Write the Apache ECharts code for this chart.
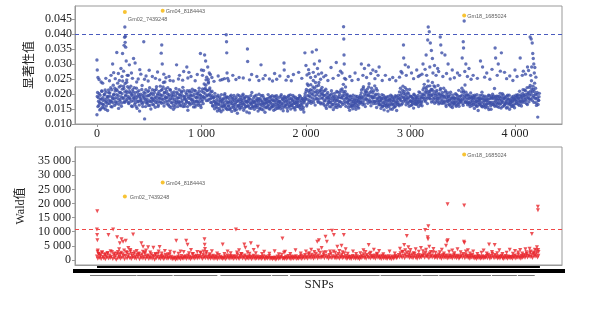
<!DOCTYPE html>
<html>
<head>
<meta charset="utf-8">
<script src="https://cdn.jsdelivr.net/npm/echarts@6/dist/echarts.min.js"></script>
<style>html,body{margin:0;padding:0;background:#fff}#chart{width:612px;height:309px}</style>
</head>
<body>
<div id="chart"></div>
<script>
const snpTicks = [0, 1000, 2000, 3000, 4000];
const sigTicks = [0.010, 0.015, 0.020, 0.025, 0.030, 0.035, 0.040, 0.045];
const waldTicks = [0, 5000, 10000, 15000, 20000, 25000, 30000, 35000];

// significance values, one every SIG_STEP SNPs, in units of 0.0001
const SIG_STEP = 6;
const sigBand = [
  131,205,188,162,171,196,150,183,209,166, 178,154,199,213,172,160,186,145,191,204,
  168,193,221,175,157,184,229,199,162,210, 188,215,173,236,194,166,205,182,227,159,
  201,243,185,218,172,235,197,210,176,224, 192,171,208,183,226,160,199,214,177,188,
  165,204,181,219,152,193,176,211,143,187, 199,172,228,158,190,206,117,181,214,169,
  183,207,162,195,221,174,150,203,186,166, 197,178,212,156,189,224,171,201,163,208,
  185,226,194,169,215,181,238,160,203,191, 176,209,187,221,164,198,180,213,155,195,
  170,192,149,207,183,165,218,177,201,158, 188,214,172,196,161,205,179,222,167,190,
  159,183,203,175,211,146,192,170,206,185, 194,168,216,181,157,199,174,210,163,187,
  176,201,162,219,184,197,155,209,180,192, 205,233,186,218,247,193,212,178,240,199,
  220,183,206,171,194,159,188,174,202,165, 158,181,143,196,167,152,189,174,141,178,
  169,147,185,162,201,155,178,190,148,172, 160,183,151,175,196,142,168,187,157,179,
  145,171,189,158,136,177,163,194,150,168, 182,155,172,199,146,166,187,159,176,140,
  174,191,160,137,183,168,152,205,171,158, 188,149,173,162,196,155,179,143,184,167,
  153,178,194,161,172,147,188,165,139,181, 170,156,185,198,163,176,150,191,168,159,
  181,164,146,177,193,158,172,186,152,169, 163,189,175,151,198,167,182,144,178,192,
  157,174,188,166,143,180,195,161,173,150, 185,162,177,154,190,169,147,183,165,176,
  171,158,186,195,163,149,179,167,184,156, 140,178,201,183,215,166,194,228,172,205,
  190,231,176,212,198,245,181,219,163,207, 226,184,203,172,238,193,211,167,199,222,
  186,209,164,195,177,216,152,189,205,171, 182,158,197,173,211,165,190,148,184,202,
  169,193,178,155,206,187,161,198,174,213, 188,217,165,232,194,176,208,159,185,199,
  172,155,181,146,193,167,160,188,151,175, 163,184,170,149,178,192,157,174,166,186,
  195,171,213,186,164,224,179,201,158,207, 183,216,169,198,234,175,192,161,219,187,
  204,168,189,227,176,199,155,212,183,171, 190,165,178,152,186,171,159,195,147,177,
  168,181,156,174,143,192,163,179,150,185, 176,149,188,165,180,157,194,170,145,183,
  172,196,161,185,219,177,203,168,226,190, 208,181,199,164,215,187,173,201,159,193,
  178,162,191,170,184,153,197,175,166,188, 181,169,195,158,176,204,163,187,172,199,
  214,186,232,197,175,221,205,168,243,190, 201,227,183,215,194,238,176,209,188,223,
  196,173,212,185,228,167,201,190,218,178, 187,205,169,219,193,176,211,158,198,182,
  174,192,163,181,206,170,188,155,197,179, 168,185,201,159,177,194,166,212,180,171,
  193,176,219,184,162,205,188,230,173,197, 181,164,196,172,187,158,203,169,185,177,
  166,183,152,191,175,160,198,171,145,186, 178,195,163,184,206,157,172,189,166,180,
  159,176,190,167,183,148,195,172,161,187, 173,199,165,186,218,177,162,193,180,168,
  185,156,179,202,168,191,174,158,197,183, 164,187,171,153,180,196,167,183,149,176,
  172,158,190,177,163,185,154,179,196,168, 181,198,166,187,209,175,193,160,184,202,
  177,194,213,182,199,168,221,187,205,174, 196,228,183,244,207,189,215,172,236,199,
  184,162,205,123,178,191
];
// second sampling of the same band, offset by half a step, in units of 0.0001
const sigBand2 = [
  192,158,176,201,147,183,169,210,155,188, 164,197,181,149,206,175,192,168,213,179,
  203,176,158,214,189,171,197,183,219,174, 167,198,211,184,152,223,176,205,191,170,
  216,188,226,174,207,193,181,239,204,186, 168,219,187,203,176,195,158,207,185,221,
  194,171,158,188,207,174,199,163,192,178, 181,215,167,196,173,186,202,158,193,176,
  171,194,211,178,162,199,187,175,214,181, 163,204,187,172,215,179,196,158,187,174,
  199,173,212,184,196,223,171,205,185,217, 188,167,201,176,193,159,214,186,172,204,
  183,161,199,175,156,193,172,206,186,169, 175,198,163,187,209,173,194,158,211,183,
  192,168,177,199,158,186,171,211,164,197, 181,207,176,193,168,212,157,189,176,201,
  191,169,208,174,196,163,188,175,217,168, 189,216,201,229,178,211,196,236,183,214,
  195,172,188,209,162,187,177,151,192,169, 172,153,190,165,177,146,183,161,198,157,
  182,159,173,196,164,187,151,170,189,160, 173,148,192,167,154,185,176,162,195,151,
  166,183,148,175,197,161,182,155,174,189, 162,178,194,167,185,153,176,192,158,172,
  161,179,186,153,172,195,164,180,157,176, 171,193,158,179,167,185,161,174,199,150,
  184,166,149,177,195,168,157,182,173,154, 182,171,160,176,151,189,172,181,156,194,
  158,177,190,166,149,182,194,163,178,155, 176,158,171,193,162,185,154,170,188,161,
  184,163,177,152,191,170,158,184,197,168, 162,181,195,168,176,154,189,171,158,184,
  185,163,177,155,191,172,160,184,149,176, 171,192,186,208,160,233,181,211,194,178,
  214,169,201,187,223,172,206,193,238,184, 197,212,176,229,183,206,171,215,187,201,
  169,196,178,211,159,184,199,165,188,176, 194,171,186,157,201,179,165,193,177,156,
  185,162,208,179,166,191,174,206,158,187, 171,194,208,183,202,169,223,187,196,174,
  189,166,179,193,158,182,174,161,196,168, 179,157,193,171,162,185,178,153,189,172,
  178,203,189,172,218,193,167,211,185,196, 206,178,194,223,181,204,172,209,193,176,
  187,211,175,196,168,218,186,177,199,164, 176,189,163,181,198,159,185,171,162,189,
  186,162,190,165,179,158,183,170,196,164, 193,167,178,156,187,173,161,192,177,166,
  188,165,207,181,196,164,189,212,176,201, 186,221,174,193,182,204,168,187,215,176,
  193,175,164,187,177,199,168,183,192,174, 165,187,175,207,183,169,192,177,161,188,
  197,221,179,206,188,213,184,226,197,208, 186,209,196,173,215,199,184,227,169,201,
  182,207,191,176,199,184,171,213,196,169, 197,178,193,172,187,206,164,189,176,204,
  191,166,179,198,158,185,173,164,188,171, 187,173,163,198,186,170,183,159,191,176,
  181,207,196,168,211,179,194,172,206,188, 172,197,169,184,165,192,176,188,161,194,
  189,171,196,164,183,176,159,187,178,165, 168,184,172,159,196,183,161,178,193,154,
  183,166,178,155,196,172,184,167,149,191, 186,165,193,171,159,190,184,171,158,193,
  171,192,166,185,153,178,201,172,186,161, 189,167,175,193,156,184,171,196,165,179,
  166,185,174,159,193,182,167,188,174,191, 194,173,186,162,178,197,169,189,176,214,
  196,172,187,211,178,193,165,201,186,222, 183,209,199,217,178,226,194,208,187,219,
  171,198,187,165,179,202
];
// points between the band and the peaks [snp, value in 0.0001]
const sigMid = [
  [20,248],[55,236],[85,252],[120,244],[135,262],[175,251],[205,268],[215,245],[240,258],[255,276],
  [285,247],[300,262],[340,252],[380,240],[420,266],[455,249],[490,243],[560,252],[600,247],[650,240],
  [690,258],[730,243],[780,250],[820,246],[870,253],[940,244],[1010,262],[1020,278],[1050,256],[1065,248],
  [1085,265],[1120,242],[1180,246],[1220,251],[1260,244],[1330,248],[1400,253],[1460,247],[1550,245],[1590,251],
  [1680,243],[1720,249],[1810,246],[1860,244],[1960,252],[2010,263],[2025,281],[2045,255],[2070,272],[2090,258],
  [2120,266],[2140,249],[2170,257],[2210,245],[2260,252],[2310,262],[2345,270],[2380,249],[2440,245],[2500,248],
  [2545,262],[2580,255],[2620,268],[2660,251],[2690,262],[2730,245],[2800,248],[2860,244],[2895,256],[2920,270],
  [2960,262],[3030,251],[3075,258],[3110,266],[3140,282],[3155,262],[3185,290],[3215,270],[3245,262],[3270,275],
  [3310,258],[3345,268],[3380,250],[3420,254],[3470,262],[3520,275],[3545,258],[3580,249],[3640,252],[3710,256],
  [3760,249],[3830,262],[3860,276],[3920,251],[3980,245],[4020,258],[4070,262],[4100,266],[4130,278],[4150,262],
  [4160,290],[4185,270],[4200,256]
];
// scattered high points [snp, value in 0.0001]
const sigPeaks = [
  [0,313],[3,280],[10,255],[40,240],[150,300],[160,271],[190,338],[230,285],[245,335],[260,362],
  [265,389],[267,423],[270,372],[272,392],[275,356],[280,310],[290,262],[310,297],[330,270],[350,318],
  [365,303],[395,250],[410,281],[448,374],[470,260],[500,279],[530,258],[580,273],[615,336],[620,363],
  [625,300],[640,266],[660,254],[700,245],[762,297],[790,262],[830,275],[860,290],[880,272],[900,258],
  [960,265],[990,335],[1000,280],[1030,330],[1040,310],[1060,290],[1075,270],[1100,255],[1160,260],[1200,248],
  [1237,397],[1240,374],[1242,337],[1245,270],[1250,252],[1300,262],[1360,255],[1440,350],[1442,308],[1480,265],
  [1530,258],[1570,297],[1610,262],[1650,250],[1700,268],[1750,260],[1790,303],[1792,280],[1830,258],[1880,265],
  [1930,272],[1990,337],[2000,295],[2030,268],[2060,340],[2080,300],[2100,347],[2110,285],[2130,310],[2150,270],
  [2190,262],[2240,288],[2290,305],[2330,276],[2360,424],[2362,383],[2364,330],[2366,300],[2370,252],[2420,258],
  [2470,270],[2530,300],[2560,285],[2600,296],[2640,280],[2670,275],[2700,290],[2760,262],[2830,255],[2910,275],
  [2933,363],[2935,320],[2950,297],[2980,290],[3010,270],[3060,280],[3090,262],[3120,300],[3150,330],[3165,380],
  [3170,423],[3180,407],[3190,370],[3200,345],[3210,318],[3230,295],[3260,285],[3285,390],[3290,363],[3300,337],
  [3330,330],[3360,300],[3400,280],[3450,270],[3495,320],[3505,374],[3508,353],[3514,443],[3530,300],[3560,285],
  [3600,262],[3670,310],[3690,290],[3730,270],[3780,282],[3810,353],[3815,320],[3840,300],[3870,337],[3900,272],
  [3950,260],[4000,280],[4050,320],[4080,276],[4120,290],[4145,390],[4155,383],[4165,370],[4170,335],[4175,318],
  [4180,300],[4190,288]
];

// Wald values, one every WALD_STEP SNPs, in units of 100
const WALD_STEP = 8;
const waldBand = [
  12,4,21,8,15,3,26,10,6,18,2,13,9,24,5,   16,7,11,28,3,19,9,14,1,22,6,17,10,4,25,
  8,20,13,2,15,27,5,11,18,7,30,3,14,9,21,  6,12,4,17,10,23,2,15,8,19,5,11,26,3,13,
  9,16,3,12,7,20,4,14,10,1,18,6,11,22,5,   10,3,15,7,12,2,9,17,5,13,4,8,19,6,11,
  2,6,4,9,1,7,3,11,5,8,2,14,6,4,10,        7,13,3,9,16,5,11,2,8,20,6,12,4,10,15,
  5,9,14,7,24,11,3,18,8,13,6,28,10,4,16,   9,4,12,7,15,3,10,6,13,2,8,17,5,11,7,
  3,8,5,12,2,9,16,6,11,4,14,7,10,3,13,     6,11,4,19,8,3,14,9,21,5,12,7,16,2,10,
  8,4,13,6,10,2,9,15,5,11,3,7,12,4,9,      5,10,3,8,13,6,2,11,7,4,9,14,3,8,6,
  2,7,4,9,1,6,12,3,8,5,10,18,4,7,3,        6,11,3,8,14,5,9,2,12,7,4,10,6,13,3,
  8,4,10,6,15,3,9,12,5,17,7,11,4,20,9,     13,6,18,10,4,15,8,22,11,5,16,9,25,7,12,
  10,19,6,14,27,8,12,4,17,9,23,6,13,30,7,  11,5,16,8,21,4,13,9,18,6,10,24,7,14,3,
  8,12,5,10,3,9,14,6,11,4,7,13,5,9,2,      10,6,15,9,20,7,13,4,17,11,8,22,5,14,9,
  12,7,16,4,11,19,8,13,6,10,3,15,9,5,12,   6,11,3,8,13,5,9,2,12,7,4,10,14,6,8,
  11,17,9,24,13,8,28,15,6,20,12,26,10,18,7, 14,9,19,6,12,22,8,15,4,11,17,7,13,9,16,
  12,20,8,25,14,10,18,6,23,11,16,9,27,13,7, 10,15,6,12,19,8,14,4,11,17,7,13,9,16,5,
  12,7,16,9,13,5,11,18,8,14,6,10,15,4,9,   11,16,8,21,13,6,19,10,15,7,12,4,14,9,17,
  7,12,5,10,3,9,14,6,11,4,8,13,5,10,7,     9,14,6,18,11,4,15,8,22,12,6,17,9,13,5,
  8,12,5,10,15,7,3,11,6,14,9,4,12,7,10,    6,10,4,13,8,16,5,11,9,19,7,12,4,15,8,
  11,17,8,14,21,9,16,12,25,10,18,7,23,13,19, 12,24,9,15
];
// moderate Wald values above the band [snp, wald]
const waldMid = [
  [15,2200],[30,1900],[50,2600],[80,2000],[100,2400],[130,3100],[170,2300],[200,2800],[225,2100],[260,3300],
  [290,2500],[330,2200],[360,2700],[400,2000],[440,2900],[460,2300],[510,2600],[560,2100],[590,3000],[620,2300],
  [680,2000],[740,2500],[780,2200],[830,2800],[880,2400],[920,2100],[990,2600],[1020,3000],[1045,2300],[1080,2000],
  [1150,2300],[1220,2100],[1280,2400],[1340,2600],[1380,2000],[1440,2700],[1460,2200],[1520,2400],[1580,2100],[1650,2200],
  [1740,2000],[1790,2500],[1850,2100],[1950,2300],[2030,2400],[2080,2800],[2120,3300],[2170,2600],[2230,3000],[2280,2500],
  [2320,3200],[2350,2700],[2400,2200],[2480,2100],[2520,2400],[2570,2800],[2620,2500],[2680,2200],[2740,2000],[2850,2300],
  [2920,2900],[2950,3400],[2990,2600],[3030,2400],[3080,2900],[3120,3100],[3150,3600],[3195,2800],[3240,2500],[3280,2700],
  [3320,2300],[3370,2900],[3420,2400],[3480,2700],[3530,3000],[3570,2300],[3640,2100],[3680,2500],[3730,2300],[3780,2800],
  [3830,2400],[3880,2100],[3920,2500],[3980,2200],[4030,2600],[4070,2300],[4110,2700],[4150,3000],[4180,2600],[4205,3300],
  [4225,2800]
];
const waldPeaks = [
  [0,10800],[2,8800],[3,17200],[4,7000],[6,2900],[8,3300],[110,8800],[155,10800],[193,8000],[212,3770],
  [219,5900],[235,7300],[250,6400],[276,6800],[300,4200],[320,3500],[346,9000],[380,3200],[425,5900],[441,4700],
  [470,3300],[490,4500],[540,4300],[600,4600],[650,3200],[700,2900],[759,6800],[800,3000],[854,6800],[867,5400],
  [900,3500],[960,2800],[1029,7300],[1031,5400],[1034,3900],[1100,3100],[1203,5500],[1250,3000],[1330,10800],[1360,3400],
  [1410,5500],[1420,4300],[1473,5900],[1500,3500],[1540,4700],[1600,2900],[1700,3100],[1775,7600],[1800,2900],[1900,3400],
  [2000,3000],[2050,3600],[2108,6400],[2124,7000],[2150,4200],[2187,8200],[2200,6400],[2250,10300],[2267,8800],[2300,4700],
  [2340,5000],[2362,8800],[2380,3800],[2450,3000],[2550,3400],[2600,5300],[2650,3600],[2700,3200],[2800,3000],[2900,4000],
  [2940,5300],[2965,8450],[2980,4500],[3000,3500],[3050,3800],[3100,4200],[3140,10560],[3165,8000],[3168,7300],[3171,11970],
  [3180,4700],[3220,3900],[3300,3600],[3340,5000],[3350,6500],[3355,19700],[3357,7000],[3400,3300],[3450,3800],[3512,6450],
  [3514,19250],[3516,6000],[3550,3400],[3600,3000],[3700,3300],[3752,5500],[3806,5300],[3850,3400],[3950,3600],[4000,3200],
  [4050,3500],[4100,3800],[4140,4000],[4162,9150],[4190,3600],[4210,4500],[4219,18800],[4220,17600],[4222,3500]
];

const hitNames = ['Gm02_7439248', 'Gm04_8184443', 'Gm18_1685024'];
const hitSnp = [267, 629, 3514];
const hitSig = [0.0473, 0.0477, 0.0461];
const hitWald = [22500, 27400, 37300];

const sigThreshold = 0.0393;
const waldThreshold = 10800;

// decoration under the lower panel (in SNP units)
const snpSpan = [0, 4240];
const barSpan = [-230, 4480];
const chromSegments = [
  [-67,378],[384,724],[734,1152],[1181,1667],[1676,1829],[1848,2705],
  [2715,3105],[3115,3267],[3276,3771],[3781,4019],[4029,4190]
];

const serif = 'Liberation Serif';
const frame = '#999';
const blue = '#3C4FA8';
const red = '#E8262C';
const gold = '#F5B400';

const spaced = v => String(v).replace(/\B(?=(\d{3})+(?!\d))/g, ' ');

const sigData = sigBand.map((v, i) => [i * SIG_STEP, v / 10000])
  .concat(sigBand2.map((v, i) => [i * SIG_STEP + SIG_STEP / 2, v / 10000]))
  .concat(sigMid.map(p => [p[0], p[1] / 10000]))
  .concat(sigPeaks.map(p => [p[0], p[1] / 10000]));
const waldData = waldBand.map((v, i) => [i * WALD_STEP, v * 100]).concat(waldMid, waldPeaks);

const hitLabel = (i, offset) => ({
  show: true, position: 'right', distance: 1, offset,
  formatter: hitNames[i], fontFamily: 'Liberation Sans', fontSize: 5.5, color: '#333'
});

const chart = echarts.init(document.getElementById('chart'));
chart.setOption({
  animation: false,
  grid: [
    { left: 75, right: 50, top: 6, height: 118, show: true, borderColor: frame, borderWidth: 1, outerBoundsMode: 'none' },
    { left: 75, right: 50, top: 147, height: 118, show: true, borderColor: frame, borderWidth: 1, outerBoundsMode: 'none' },
    { left: 73, right: 47, top: 266, height: 10, outerBoundsMode: 'none' }
  ],
  xAxis: [
    {
      gridIndex: 0, type: 'value', min: -210, max: 4450,
      axisLine: { onZero: false, lineStyle: { color: frame } },
      axisTick: { customValues: snpTicks, length: 3, lineStyle: { color: frame } },
      axisLabel: { customValues: snpTicks, formatter: spaced, margin: 4, fontFamily: serif, fontSize: 12, color: '#222' },
      splitLine: { show: false }
    },
    {
      gridIndex: 1, type: 'value', min: -210, max: 4450,
      axisLine: { onZero: false, lineStyle: { color: frame } },
      axisTick: { show: false }, axisLabel: { show: false }, splitLine: { show: false }
    },
    {
      gridIndex: 2, type: 'value', min: -230, max: 4480,
      axisLine: { show: false }, axisTick: { show: false }, axisLabel: { show: false }, splitLine: { show: false },
      name: 'SNPs', nameLocation: 'middle', nameGap: 2,
      nameTextStyle: { fontFamily: serif, fontSize: 13, color: '#222', verticalAlign: 'top' }
    }
  ],
  yAxis: [
    {
      gridIndex: 0, type: 'value', min: 0.010, max: 0.0493,
      axisLine: { onZero: false, lineStyle: { color: frame } },
      axisTick: { customValues: sigTicks, length: 3, lineStyle: { color: frame } },
      axisLabel: { customValues: sigTicks, formatter: v => v.toFixed(3), margin: 3, fontFamily: serif, fontSize: 12, color: '#222' },
      splitLine: { show: false },
      name: '显著性值', nameLocation: 'middle', nameRotate: 90, nameGap: 33,
      nameTextStyle: { fontFamily: 'Noto Sans CJK SC', fontSize: 12, color: '#222' }
    },
    {
      gridIndex: 1, type: 'value', min: -1800, max: 40000,
      axisLine: { onZero: false, lineStyle: { color: frame } },
      axisTick: { customValues: waldTicks, length: 3, lineStyle: { color: frame } },
      axisLabel: { customValues: waldTicks, formatter: spaced, margin: 4, fontFamily: serif, fontSize: 12, color: '#222' },
      splitLine: { show: false },
      name: 'Wald值', nameLocation: 'middle', nameRotate: 90, nameGap: 37,
      nameTextStyle: { fontFamily: serif + ', Noto Sans CJK SC', fontSize: 12, color: '#222' }
    },
    { gridIndex: 2, type: 'value', min: 0, max: 10, inverse: true, show: false }
  ],
  series: [
    {
      type: 'scatter', xAxisIndex: 0, yAxisIndex: 0, data: sigData,
      symbolSize: 3.4, itemStyle: { color: blue }, silent: true,
      markLine: {
        silent: true, symbol: 'none', label: { show: false },
        lineStyle: { color: '#4A5BBE', type: [4, 3], width: 1 },
        data: [{ yAxis: sigThreshold }]
      }
    },
    {
      type: 'scatter', xAxisIndex: 0, yAxisIndex: 0, symbolSize: 4, itemStyle: { color: gold }, silent: true,
      data: hitNames.map((n, i) => ({
        value: [hitSnp[i], hitSig[i]],
        label: hitLabel(i, i === 0 ? [0, 7] : [0, 1])
      }))
    },
    {
      type: 'scatter', xAxisIndex: 1, yAxisIndex: 1, data: waldData,
      symbol: 'triangle', symbolRotate: 180, symbolSize: 4, itemStyle: { color: red }, silent: true,
      markLine: {
        silent: true, symbol: 'none', label: { show: false },
        lineStyle: { color: '#F04848', type: [4, 3], width: 1 },
        data: [{ yAxis: waldThreshold }]
      }
    },
    {
      type: 'scatter', xAxisIndex: 1, yAxisIndex: 1, symbolSize: 4, itemStyle: { color: gold }, silent: true,
      data: hitNames.map((n, i) => ({
        value: [hitSnp[i], hitWald[i]],
        label: hitLabel(i, i === 0 ? [2, 1] : [0, 1])
      }))
    },
    {
      type: 'lines', coordinateSystem: 'cartesian2d', xAxisIndex: 2, yAxisIndex: 2, silent: true,
      data: [
        { coords: [[snpSpan[0], 0.8], [snpSpan[1], 0.8]], lineStyle: { width: 2, color: '#000', opacity: 1 } },
        { coords: [[barSpan[0], 5], [barSpan[1], 5]], lineStyle: { width: 4, color: '#000', opacity: 1 } }
      ].concat(chromSegments.map(s => ({
        coords: [[s[0], 9], [s[1], 9]], lineStyle: { width: 1, color: '#777', opacity: 1 }
      })))
    }
  ]
});
</script>
</body>
</html>
